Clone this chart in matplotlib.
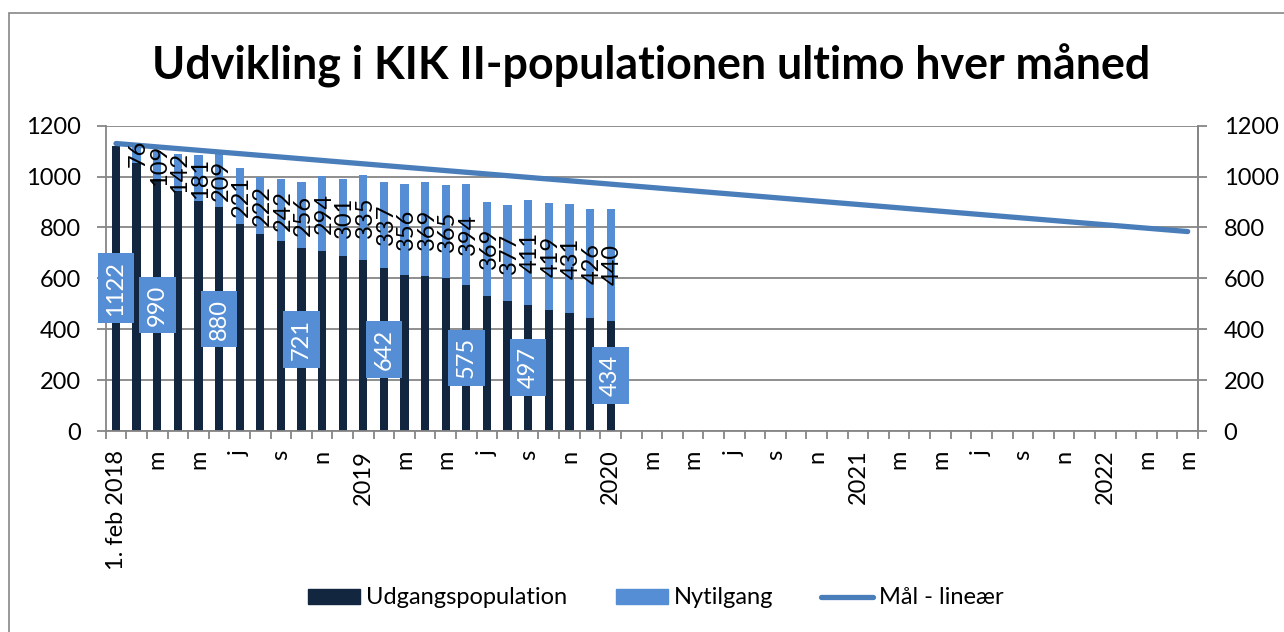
import numpy as np
import matplotlib
matplotlib.use("Agg")
import matplotlib.pyplot as plt
from matplotlib.patches import Rectangle, Patch
from matplotlib.lines import Line2D

plt.rcParams['font.family'] = ['Lato', 'DejaVu Sans']

# data (monthly, from 1. feb 2018)
udgang = [1122, 1055, 990, 945, 903, 880, 812, 776, 747, 721, 708, 688, 671,
          642, 613, 609, 602, 575, 532, 511, 497, 476, 462, 446, 434]
nytilgang = [0, 76, 109, 142, 181, 209, 221, 222, 242, 256, 294, 301, 335,
             337, 356, 369, 365, 394, 369, 377, 411, 419, 431, 426, 440]
udgang_label_idx = [0, 2, 5, 9, 13, 17, 20, 24]

n_months = 53
maal_start, maal_end = 1130, 784   # linear target, first and last month

tick_labels = ["1. feb 2018", "m", "m", "j", "s", "n",
               "2019", "m", "m", "j", "s", "n",
               "2020", "m", "m", "j", "s", "n",
               "2021", "m", "m", "j", "s", "n",
               "2022", "m", "m"]

dark = '#132640'
light = '#558ED5'
line_col = '#4A7EBB'
grid_col = '#868686'
fs = 17

W, H = 1284, 632
fig = plt.figure(figsize=(W / 100, H / 100), dpi=100)
ax = fig.add_axes([105.7 / W, 1 - 431 / H, (1198 - 105.7) / W, (431 - 125.7) / H])

x = np.arange(len(udgang))
ax.bar(x, udgang, width=0.4, color=dark, zorder=2)
ax.bar(x, nytilgang, width=0.4, bottom=udgang, color=light, zorder=2)
ax.plot([0, n_months - 1], [maal_start, maal_end], color=line_col, lw=3.8,
        solid_capstyle='round', zorder=3)

# value labels
for i in udgang_label_idx:
    ax.text(i, udgang[i] / 2, str(udgang[i]), rotation=90, ha='center', va='center',
            color='white', fontsize=fs, zorder=4,
            bbox=dict(boxstyle='square,pad=0.33', fc=light, ec='none'))
for i in range(1, len(nytilgang)):
    ax.text(i + 0.1, udgang[i] + nytilgang[i] / 2, str(nytilgang[i]), rotation=90,
            ha='center', va='center', color='black', fontsize=fs, zorder=4)

ax.set_xlim(-0.5, n_months - 0.5)
ax.set_ylim(0, 1200)
ax.set_yticks(range(0, 1201, 200))
ax.grid(axis='y', color=grid_col, lw=1.3, zorder=0)

ax.set_xticks(range(0, n_months, 2))
ax.set_xticklabels(tick_labels, rotation=90, fontsize=fs)
ax.set_xticks(np.arange(-0.5, n_months, 1), minor=True)
ax.tick_params(axis='x', which='major', length=0, pad=13.5)
ax.tick_params(axis='x', which='minor', length=6, width=1.3, color=grid_col)
ax.tick_params(axis='y', length=6.5, width=1.3, color=grid_col, labelsize=fs, pad=11.5)

for s in ['top']:
    ax.spines[s].set_visible(False)
for s in ['left', 'right', 'bottom']:
    ax.spines[s].set_color(grid_col)
    ax.spines[s].set_linewidth(1.3)

ax2 = ax.twinx()
ax2.set_ylim(0, 1200)
ax2.set_yticks(range(0, 1201, 200))
ax2.tick_params(axis='y', length=6.5, width=1.3, color=grid_col, labelsize=fs, pad=12)
for s in ['top', 'left', 'bottom']:
    ax2.spines[s].set_visible(False)
ax2.spines['right'].set_color(grid_col)
ax2.spines['right'].set_linewidth(1.3)

fig.text(651.5 / W, 1 - 80 / H, "Udvikling i KIK II-populationen ultimo hver måned",
         ha='center', va='baseline', fontsize=32.2, fontweight='bold')

handles = [Patch(color=dark), Patch(color=light),
           Line2D([], [], color=line_col, lw=3.8, solid_capstyle='round')]
fig.legend(handles, ["Udgangspopulation", "Nytilgang", "Mål - lineær"],
           loc='center', bbox_to_anchor=(656 / W, 1 - 598 / H), ncol=3,
           frameon=False, fontsize=fs, handlelength=2.2, handleheight=0.62,
           handletextpad=0.25, columnspacing=2.05)

# outer chart frame
fig.patches.append(Rectangle((9 / W, -0.1), 1.2, 1.1 - 13 / H, transform=fig.transFigure,
                             fill=False, ec=grid_col, lw=1.2))

fig.savefig('out.png', dpi=100)
